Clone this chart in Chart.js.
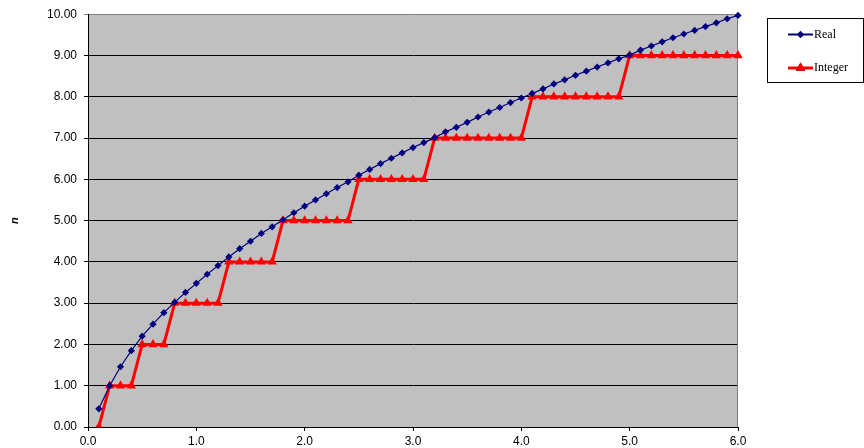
<!DOCTYPE html>
<html>
<head>
<meta charset="utf-8">
<script src="https://cdn.jsdelivr.net/npm/chart.js@4.4.1/dist/chart.umd.min.js"></script>
<style>
  html, body { margin: 0; padding: 0; background: #ffffff; }
  #wrap { width: 864px; height: 448px; position: relative; }
</style>
</head>
<body>
<div id="wrap"><canvas id="chart-area"></canvas></div>
<script>
// x positions of the points
const xValues = [
  0.1, 0.2, 0.3, 0.4, 0.5, 0.6, 0.7, 0.8, 0.9, 1.0,
  1.1, 1.2, 1.3, 1.4, 1.5, 1.6, 1.7, 1.8, 1.9, 2.0,
  2.1, 2.2, 2.3, 2.4, 2.5, 2.6, 2.7, 2.8, 2.9, 3.0,
  3.1, 3.2, 3.3, 3.4, 3.5, 3.6, 3.7, 3.8, 3.9, 4.0,
  4.1, 4.2, 4.3, 4.4, 4.5, 4.6, 4.7, 4.8, 4.9, 5.0,
  5.1, 5.2, 5.3, 5.4, 5.5, 5.6, 5.7, 5.8, 5.9, 6.0
];

// "Real" series
const realValues = [
  0.44, 1.00, 1.46, 1.85, 2.20, 2.49, 2.77, 3.02, 3.26, 3.48,
  3.70, 3.91, 4.12, 4.32, 4.50, 4.69, 4.85, 5.02, 5.19, 5.35,
  5.50, 5.65, 5.80, 5.94, 6.10, 6.24, 6.38, 6.51, 6.64, 6.77,
  6.89, 7.01, 7.15, 7.26, 7.38, 7.51, 7.63, 7.74, 7.86, 7.97,
  8.08, 8.19, 8.31, 8.41, 8.52, 8.62, 8.72, 8.82, 8.92, 9.01,
  9.13, 9.23, 9.33, 9.43, 9.52, 9.61, 9.70, 9.79, 9.89, 9.97
];

// "Integer" series
const integerValues = [
  0, 1, 1, 1, 2, 2, 2, 3, 3, 3,
  3, 3, 4, 4, 4, 4, 4, 5, 5, 5,
  5, 5, 5, 5, 6, 6, 6, 6, 6, 6,
  6, 7, 7, 7, 7, 7, 7, 7, 7, 7,
  8, 8, 8, 8, 8, 8, 8, 8, 8, 9,
  9, 9, 9, 9, 9, 9, 9, 9, 9, 9
];

const seriesNames = ['Real', 'Integer'];
const yTitle = 'n';

const toPoints = (vals) => vals.map((v, i) => ({ x: xValues[i], y: v }));

// grey plot area + grey right border
const plotFrame = {
  id: 'plotFrame',
  beforeDraw(chart) {
    const a = chart.chartArea;
    const ctx = chart.ctx;
    ctx.save();
    ctx.fillStyle = '#c0c0c0';
    ctx.fillRect(a.left, a.top, a.right - a.left, a.bottom - a.top);
    ctx.restore();
  },
  beforeDatasetsDraw(chart) {
    const a = chart.chartArea;
    const ctx = chart.ctx;
    ctx.save();
    ctx.strokeStyle = '#808080';
    ctx.lineWidth = 1;
    ctx.beginPath();
    ctx.moveTo(Math.round(a.right) - 0.5, a.top);
    ctx.lineTo(Math.round(a.right) - 0.5, a.bottom);
    ctx.stroke();
    ctx.restore();
  }
};

// boxed legend on the right, like the original
const boxLegend = {
  id: 'boxLegend',
  afterDraw(chart) {
    const ctx = chart.ctx;
    ctx.save();
    ctx.strokeStyle = '#000000';
    ctx.lineWidth = 1;
    ctx.strokeRect(767.5, 18.5, 96, 64);
    const rows = [34.5, 68];
    const lineW = [2, 3];
    chart.data.datasets.forEach((ds, i) => {
      const y = rows[i];
      ctx.strokeStyle = ds.borderColor;
      ctx.lineWidth = lineW[i];
      ctx.beginPath();
      ctx.moveTo(788, y);
      ctx.lineTo(813, y);
      ctx.stroke();
      Chart.helpers.drawPoint(ctx, {
        pointStyle: ds.pointStyle,
        radius: ds.pointRadius,
        borderWidth: 0,
        rotation: 0
      }, 800.5, y);
      ctx.fillStyle = ds.pointBackgroundColor;
      ctx.fill();
      ctx.fillStyle = '#000000';
      ctx.font = '12px "Liberation Serif", "Times New Roman", serif';
      ctx.textAlign = 'left';
      ctx.textBaseline = 'middle';
      ctx.fillText(ds.label, 814, y);
    });
    ctx.restore();
  }
};

const ctx = document.getElementById('chart-area').getContext('2d');
const chart = new Chart(ctx, {
  type: 'scatter',
  data: {
    datasets: [{
      label: seriesNames[0],
      data: toPoints(realValues),
      showLine: true,
      borderColor: '#000080',
      backgroundColor: '#000080',
      pointBackgroundColor: '#000080',
      pointBorderColor: '#000080',
      borderWidth: 1.2,
      pointStyle: 'rectRot',
      pointRadius: 3.6,
      pointBorderWidth: 0,
      clip: { left: false, top: false, right: false, bottom: 0 }
    }, {
      label: seriesNames[1],
      data: toPoints(integerValues),
      showLine: true,
      borderColor: '#ff0000',
      backgroundColor: '#ff0000',
      pointBackgroundColor: '#ff0000',
      pointBorderColor: '#ff0000',
      borderWidth: 3,
      pointStyle: 'triangle',
      pointRadius: 5.4,
      pointBorderWidth: 0,
      clip: { left: false, top: false, right: false, bottom: 0 }
    }]
  },
  options: {
    responsive: true,
    maintainAspectRatio: false,
    animation: false,
    layout: { padding: { top: 14, right: 126, bottom: 0, left: 0 } },
    plugins: {
      legend: { display: false },
      tooltip: { enabled: false }
    },
    scales: {
      x: {
        type: 'linear',
        min: 0,
        max: 6,
        afterFit(scale) { scale.height = 21; },
        ticks: {
          stepSize: 1,
          padding: 3,
          color: '#000000',
          maxRotation: 0,
          font: { family: '"Liberation Sans", Arial, sans-serif', size: 12 },
          callback: (v) => Number(v).toFixed(1)
        },
        grid: {
          drawOnChartArea: false,
          drawTicks: true,
          tickLength: 4,
          color: '#000000'
        },
        border: { color: '#000000', width: 1 }
      },
      y: {
        type: 'linear',
        min: 0,
        max: 10,
        afterFit(scale) { scale.width = 88; },
        title: {
          display: true,
          text: yTitle,
          color: '#000000',
          padding: { top: 8, bottom: 0 },
          font: { family: '"Liberation Sans", Arial, sans-serif', size: 11, style: 'italic', weight: 'bold' }
        },
        ticks: {
          stepSize: 1,
          padding: 7,
          color: '#000000',
          font: { family: '"Liberation Sans", Arial, sans-serif', size: 12 },
          callback: (v) => Number(v).toFixed(2)
        },
        grid: {
          drawTicks: true,
          tickLength: 4,
          lineWidth: 1,
          color: (c) => (c.tick && c.tick.value === 10 ? '#808080' : '#000000')
        },
        border: { color: '#000000', width: 1 }
      }
    }
  },
  plugins: [plotFrame, boxLegend]
});
</script>
</body>
</html>
